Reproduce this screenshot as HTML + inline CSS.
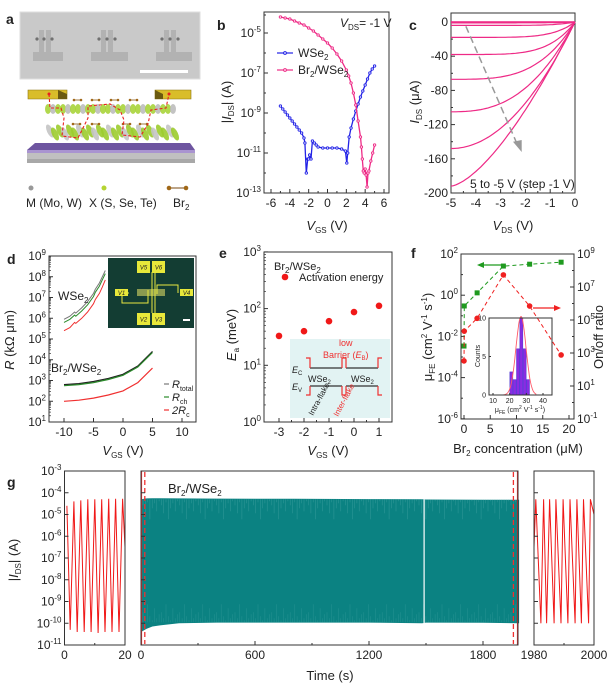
<!DOCTYPE html>
<html><head><meta charset="utf-8">
<style>
html,body{margin:0;padding:0;background:#fff;}
svg{display:block;font-family:"Liberation Sans",Arial,sans-serif;}
text{fill:#222;}
</style></head>
<body>
<svg id="fig" width="610" height="686" viewBox="0 0 610 686" xmlns="http://www.w3.org/2000/svg">
<g>
<text x="6" y="24" font-size="14" font-weight="bold">a</text>
<rect x="20" y="12" width="180" height="67" fill="#c9c9c9" stroke="#dedede"/>
<g fill="#b2b2b2">
<rect x="39" y="30" width="5" height="24"/><rect x="46" y="30" width="5" height="24"/><rect x="33" y="52" width="30" height="9"/>
<rect x="101" y="30" width="5" height="24"/><rect x="108" y="30" width="5" height="24"/><rect x="91" y="52" width="37" height="9"/>
<rect x="164" y="30" width="5" height="24"/><rect x="171" y="30" width="5" height="24"/><rect x="156" y="52" width="36" height="9"/>
</g>
<g fill="#707070">
<circle cx="37" cy="39" r="1.6"/><circle cx="44" cy="39" r="1.6"/><circle cx="52" cy="39" r="1.6"/>
<circle cx="99" cy="39" r="1.6"/><circle cx="107" cy="39" r="1.6"/><circle cx="115" cy="39" r="1.6"/>
<circle cx="162" cy="39" r="1.6"/><circle cx="170" cy="39" r="1.6"/><circle cx="178" cy="39" r="1.6"/>
</g>
<rect x="140" y="70" width="48" height="3" fill="#fff"/>
<g>
<polygon points="35,143 190,143 195,150 27,150" fill="#6e55a0"/>
<rect x="27" y="150" width="168" height="3" fill="#a994d0"/>
<rect x="27" y="153" width="168" height="10" fill="#c0c0c0"/>
<rect x="27" y="159" width="168" height="4" fill="#a8a8a8"/>
<g id="layers"></g>
<polygon points="28,90 67,90 67,99 28,99" fill="#d9bd2a" stroke="#8a7410" stroke-width="0.6"/>
<polygon points="58,90 67,94 67,99 58,99" fill="#6b5a10"/>
<polygon points="155,90 191,90 191,99 155,99" fill="#d9bd2a" stroke="#8a7410" stroke-width="0.6"/>
<polygon points="155,90 163,94 163,99 155,99" fill="#6b5a10"/>
<path d="M49,94 L50,108 L61,108 L64,118 L62,136 L78,138 L88,118 L88,106 L110,104 L120,110 L124,120 L122,135 L140,137 L148,124 L151,110 L166,108 L169,94" fill="none" stroke="#e82020" stroke-width="1.1" stroke-dasharray="3,2"/>
<circle cx="49" cy="94" r="1.5" fill="#e82020"/><circle cx="169" cy="94" r="1.5" fill="#e82020"/>
</g>
<g>
<circle cx="31" cy="188" r="2.5" fill="#999"/>
<circle cx="104" cy="188" r="2.5" fill="#b5d432"/>
<line x1="169" y1="188" x2="186" y2="188" stroke="#7a4a10" stroke-width="1"/>
<circle cx="169" cy="188" r="2.3" fill="#a06818"/><circle cx="186" cy="188" r="2.3" fill="#a06818"/>
<text x="26" y="207" font-size="12">M (Mo, W)</text>
<text x="89" y="207" font-size="12">X (S, Se, Te)</text>
<text x="173" y="207" font-size="12">Br<tspan font-size="8" dy="3">2</tspan></text>
</g>
</g>
</svg>
<script>
const NS='http://www.w3.org/2000/svg';
const svg=document.getElementById('fig');

/* ---------- DATA ---------- */
const bVBlue=[-5,-4.75,-4.5,-4.25,-4,-3.75,-3.5,-3.25,-3,-2.75,-2.5,-2.4,-2.25,-2.1,-2,-1.9,-1.75,-1.6,-1.4,-1.2,-1,-0.5,0,0.5,1,1.5,1.9,2.05,2.15,2.3,2.5,2.75,3,3.25,3.5,3.75,4,4.25,4.5,4.75,5];
const bLogBlue=[-8.65,-8.8,-8.95,-9.1,-9.25,-9.4,-9.55,-9.7,-9.85,-10.0,-10.25,-10.5,-12.0,-11.3,-11.3,-11.1,-11.3,-10.4,-10.5,-10.6,-10.7,-10.75,-10.75,-10.75,-10.75,-10.8,-10.9,-11.5,-11.0,-10.2,-9.75,-9.3,-8.9,-8.55,-8.2,-7.9,-7.6,-7.3,-7.0,-6.8,-6.65];
const bVPink=[-5,-4.5,-4,-3.5,-3,-2.5,-2,-1.5,-1,-0.5,0,0.5,1,1.5,2,2.25,2.5,2.75,3,3.25,3.5,3.6,3.7,3.8,3.9,4,4.1,4.2,4.3,4.4,4.6,4.8,5];
const bLogPink=[-4.2,-4.25,-4.3,-4.4,-4.5,-4.6,-4.75,-4.9,-5.1,-5.3,-5.5,-5.75,-6.05,-6.4,-6.85,-7.15,-7.5,-8.0,-8.6,-9.4,-10.2,-10.7,-11.3,-11.9,-12.0,-11.8,-12.1,-12.7,-12.0,-11.9,-11.4,-11.0,-10.6];
const bXTicks=[-6,-4,-2,0,2,4,6];
const bYTicks=[-13,-11,-9,-7,-5];
const cSat=[0,0,0,-1,-4,-18,-38,-67,-105,-148,-192];
const cSharp=[8,8,8,8,7,6,5,3.5,2.6,2,1.5];
const cXTicks=[-5,-4,-3,-2,-1,0];
const cYTicks=[0,-40,-80,-120,-160,-200];
const dVW=[-10,-9,-8.2,-8,-7,-6,-5,-4.7,-4,-3.5,-3];
const dWTotal=[5.95,6.1,6.3,6.25,6.5,6.8,7.2,7.4,7.7,8.0,8.3];
const dWCh=[5.8,5.95,6.15,6.1,6.35,6.65,7.05,7.25,7.55,7.85,8.15];
const dWRc=[5.4,5.55,5.8,5.75,6.0,6.3,6.7,6.9,7.2,7.5,7.85];
const dVB=[-10,-7.5,-5,-2.5,0,2.5,5];
const dBTotal=[2.8,2.85,2.95,3.1,3.3,3.7,4.4];
const dBCh=[2.75,2.8,2.9,3.05,3.25,3.65,4.35];
const dBRc=[2.0,2.05,2.15,2.3,2.5,2.9,3.6];
const dXTicks=[-10,-5,0,5,10];
const dYTicks=[1,2,3,4,5,6,7,8,9];
const eV=[-3,-2,-1,0,1];
const eEa=[33,40,60,87,112];
const eXTicks=[-3,-2,-1,0,1];
const eYTicks=[0,1,2,3];
const fConc=[0,0.05,2.5,7.5,12.5,18.5];
const fMob=[0.0034,0.3,1.3,26,32,40];
const fOnOff=[330,21000,126000,54000000,700000,760];
const fXTicks=[0,5,10,15,20];
const fYLeft=[-6,-4,-2,0,2];
const fYRight=[-1,1,3,5,7,9];
const hCenters=[21,23,25,27,29,31];
const hCounts=[3,2,6,10,6,2];
const hFitMean=26.8, hFitSigma=3.0, hFitAmp=10.2;
const gLT=[0.8,1.9,3.1,4.2,5.4,6.5,7.7,8.8,10.0,11.1,12.3,13.4,14.6,15.7,16.9,18.0,19.2,20];
const gLI=[-4.6,-10.3,-4.4,-10.4,-4.35,-10.4,-4.3,-10.4,-4.3,-10.45,-4.3,-10.4,-4.28,-10.4,-4.28,-10.4,-4.28,-6.5];
const gRT=[1980,1980.6,1982.3,1983.2,1984.2,1985.2,1986.7,1987.3,1989,1989.7,1991.3,1992,1993.7,1994.3,1995.8,1996.5,1998.2,1998.8,2000];
const gRI=[-6.5,-4.3,-10.0,-4.3,-10.0,-4.3,-10.0,-4.3,-10.0,-4.3,-10.0,-4.3,-10.0,-4.3,-10.0,-4.3,-10.0,-4.3,-5.0];
const gMT=[0,30,60,100,200,400,800,1200,1480,1500,1800,1990];
const gMTop=[-4.3,-4.26,-4.25,-4.25,-4.26,-4.27,-4.28,-4.29,-4.3,-4.31,-4.32,-4.32];
const gMBot=[-10.4,-10.25,-10.15,-10.1,-10.0,-9.97,-9.97,-9.97,-10.0,-9.97,-9.98,-10.0];
const gGapT=1490;
const gDashT=[20,1960];
const gYTicks=[-11,-10,-9,-8,-7,-6,-5,-4,-3];

/* ---------- helpers ---------- */
function mk(tag,attrs,parent){const e=document.createElementNS(NS,tag);for(const k in attrs)e.setAttribute(k,attrs[k]);(parent||svg).appendChild(e);return e;}
function lin(d0,d1,r0,r1){return v=>r0+(v-d0)*(r1-r0)/(d1-d0);}
function sup(e){return '10<tspan font-size="8" dy="-5">'+e+'</tspan>';}
function T(x,y,html,attrs,name){
  const e=mk('text',Object.assign({x:x,y:y,'font-size':12},attrs||{}));
  e.innerHTML=html;
  
  
  return e;
}
function L(x1,y1,x2,y2,attrs,name){
  const e=mk('line',Object.assign({x1:x1,y1:y1,x2:x2,y2:y2,stroke:'#333','stroke-width':1},attrs||{}));
  
  
  return e;
}
function box(x0,y0,x1,y1,name){
  const e=mk('rect',{x:x0,y:y0,width:x1-x0,height:y1-y0,fill:'none',stroke:'#333','stroke-width':1});
  
  
  return e;
}
function poly(xs,ys,attrs,name){
  const p=xs.map((x,i)=>x.toFixed(1)+','+ys[i].toFixed(1)).join(' ');
  const e=mk('polyline',Object.assign({points:p,fill:'none'},attrs));
  
  
  return e;
}
function dot(x,y,r,attrs,name){
  const e=mk('circle',Object.assign({cx:x,cy:y,r:r},attrs));
  
  
  return e;
}
function xTicks(vals,sx,yb,labels,name,len,fs){
  vals.forEach((v,i)=>{L(sx(v),yb,sx(v),yb-(len||4),{},name+'-tick');
    if(labels) T(sx(v),yb+14,labels[i],{'text-anchor':'middle','font-size':fs||12},name+'-label');});
}
function yTicks(vals,sy,xl,labels,name,len,fs,right){
  vals.forEach((v,i)=>{L(xl,sy(v),xl+(right?-(len||4):(len||4)),sy(v),{},name+'-tick');
    if(labels) T(right?xl+3:xl-3,sy(v)+4,labels[i],{'text-anchor':right?'start':'end','font-size':fs||12},name+'-label');});
}
function minorLog(decs,sy,xl,name,right){
  decs.forEach(d=>{for(let m=2;m<10;m++){const y=sy(d+Math.log10(m));L(xl,y,xl+(right?-2:2),y,{'stroke-width':0.7},name);}});
}

(function(){
  const g=document.getElementById('layers');
  for(let i=0;i<26;i++){const x=48+i*5;
    mk('ellipse',{cx:x,cy:109,rx:3,ry:5,fill:(i%3==1)?'#bdbdbd':'#a8d43a',opacity:0.9},g);
    mk('ellipse',{cx:x+2,cy:131+(i%2)*3,rx:3,ry:7,fill:(i%3==0)?'#c4c4c4':'#9ccc2e',opacity:0.9,transform:'rotate(-25 '+(x+2)+' '+(131+(i%2)*3)+')'},g);}
  [[74,100],[92,100],[111,100],[130,100],[73,124],[92,124],[123,124],[140,124]].forEach(p=>{
    mk('line',{x1:p[0],y1:p[1],x2:p[0]+7,y2:p[1],stroke:'#8a5a18','stroke-width':0.8},g);
    mk('circle',{cx:p[0],cy:p[1],r:1.3,fill:'#a06818'},g);mk('circle',{cx:p[0]+7,cy:p[1],r:1.3,fill:'#a06818'},g);});
})();

/* ---------- Panel b ---------- */
(function(){
  const sx=lin(-6,6,271,384), sy=l=>193-(l+13)*20;
  T(217,30,'b',{'font-size':14,'font-weight':'bold'},'panel-label-b');
  box(264,12,389,193,'plot-frame-b');
  xTicks(bXTicks,sx,193,bXTicks.map(String),'b-x-axis');
  [-5,-3,-1,1,3,5].forEach(v=>L(sx(v),193,sx(v),191,{},'b-x-minor'));
  yTicks(bYTicks,sy,264,bYTicks.map(sup),'b-y-axis');
  [-12,-10,-8,-6,-4.1].forEach(v=>L(264,sy(v),266,sy(v),{},'b-y-minor'));
  const blue='#2222e6', pink='#ee2a86';
  poly(bVBlue.map(sx),bLogBlue.map(sy),{stroke:blue,'stroke-width':1.3},'wse2-transfer-line');
  bVBlue.forEach((v,i)=>dot(sx(v),sy(bLogBlue[i]),1.2,{fill:'#fff',stroke:blue,'stroke-width':0.9},'wse2-point'));
  poly(bVPink.map(sx),bLogPink.map(sy),{stroke:pink,'stroke-width':1.3},'br2-wse2-transfer-line');
  bVPink.forEach((v,i)=>dot(sx(v),sy(bLogPink[i]),1.2,{fill:'#fff',stroke:pink,'stroke-width':0.9},'br2-wse2-point'));
  L(277,53,293,53,{stroke:blue,'stroke-width':1.2},'legend-wse2-line');dot(285,53,1.4,{fill:'#fff',stroke:blue},'legend-wse2-marker');
  T(298,57,'WSe<tspan font-size="8" dy="3">2</tspan>',{},'legend-wse2');
  L(277,70,293,70,{stroke:pink,'stroke-width':1.2},'legend-br2-line');dot(285,70,1.4,{fill:'#fff',stroke:pink},'legend-br2-marker');
  T(298,74,'Br<tspan font-size="8" dy="3">2</tspan><tspan dy="-3">/WSe</tspan><tspan font-size="8" dy="3">2</tspan>',{},'legend-br2-wse2');
  T(340,27,'<tspan font-style="italic">V</tspan><tspan font-size="8" dy="3">DS</tspan><tspan dy="-3">= -1 V</tspan>',{},'vds-annotation');
  T(231,102,'|<tspan font-style="italic">I</tspan><tspan font-size="8" dy="3">DS</tspan><tspan dy="-3">| (A)</tspan>',{'text-anchor':'middle',transform:'rotate(-90 231 102)','font-size':13},'b-y-axis-title');
  T(327,230,'<tspan font-style="italic">V</tspan><tspan font-size="8" dy="3">GS</tspan><tspan dy="-3"> (V)</tspan>',{'text-anchor':'middle','font-size':13},'b-x-axis-title');
})();

/* ---------- Panel c ---------- */
(function(){
  const sx=lin(-5,0,451,575), sy=lin(0,-200,22,193);
  T(409,30,'c',{'font-size':14,'font-weight':'bold'},'panel-label-c');
  box(451,13,575,193,'plot-frame-c');
  xTicks(cXTicks,sx,193,cXTicks.map(String),'c-x-axis');
  [-4.5,-3.5,-2.5,-1.5,-0.5].forEach(v=>L(sx(v),193,sx(v),191,{},'c-x-minor'));
  yTicks(cYTicks,sy,451,cYTicks.map(String),'c-y-axis');
  [-20,-60,-100,-140,-180].forEach(v=>L(451,sy(v),453,sy(v),{},'c-y-minor'));
  cSat.forEach((s,k)=>{const xs=[],ys=[];
    for(let i=0;i<=50;i++){const u=i/50;const v=-5*u;const g=1-Math.pow(1-u,cSharp[k]);xs.push(sx(v));ys.push(sy(s*g));}
    poly(xs,ys,{stroke:'#ee2a86','stroke-width':1.2},'output-curve');});
  L(sx(-4.4),sy(-5),sx(-2.3),sy(-145),{stroke:'#999','stroke-width':1.5,'stroke-dasharray':'7,4'},'gate-sweep-arrow');
  const ap=mk('polygon',{points:`${sx(-2.15)},${sy(-152)} ${sx(-2.5)},${sy(-140)} ${sx(-2.15)},${sy(-138)}`,fill:'#999'});
  
  
  T(470,188,'5 to -5 V (step -1 V)',{},'vgs-step-annotation');
  T(419,102,'<tspan font-style="italic">I</tspan><tspan font-size="8" dy="3">DS</tspan><tspan dy="-3"> (μA)</tspan>',{'text-anchor':'middle',transform:'rotate(-90 419 102)','font-size':13},'c-y-axis-title');
  T(513,230,'<tspan font-style="italic">V</tspan><tspan font-size="8" dy="3">DS</tspan><tspan dy="-3"> (V)</tspan>',{'text-anchor':'middle','font-size':13},'c-x-axis-title');
})();

/* ---------- Panel d ---------- */
(function(){
  const sx=lin(0,5,123,152.5), sy=l=>422-(l-1)*20.75;
  T(7,264,'d',{'font-size':14,'font-weight':'bold'},'panel-label-d');
  box(49,256,196,422,'plot-frame-d');
  xTicks(dXTicks,sx,422,dXTicks.map(String),'d-x-axis');
  yTicks(dYTicks,sy,49,dYTicks.map(sup),'d-y-axis');
  minorLog([1,2,3,4,5,6,7,8],sy,49,'d-y-minor');
  poly(dVW.map(sx),dWTotal.map(sy),{stroke:'#777','stroke-width':1},'wse2-r-total');
  poly(dVW.map(sx),dWCh.map(sy),{stroke:'#2a8a2a','stroke-width':1},'wse2-r-ch');
  poly(dVW.map(sx),dWRc.map(sy),{stroke:'#f03030','stroke-width':1},'wse2-2rc');
  poly(dVB.map(sx),dBTotal.map(sy),{stroke:'#222','stroke-width':1.2},'br2-r-total');
  poly(dVB.map(sx),dBCh.map(sy),{stroke:'#2a8a2a','stroke-width':1.2},'br2-r-ch');
  poly(dVB.map(sx),dBRc.map(sy),{stroke:'#f03030','stroke-width':1.2},'br2-2rc');
  T(58,300,'WSe<tspan font-size="8" dy="3">2</tspan>',{},'wse2-label');
  T(51,372,'Br<tspan font-size="8" dy="3">2</tspan><tspan dy="-3">/WSe</tspan><tspan font-size="8" dy="3">2</tspan>',{},'br2-wse2-label');
  [['#777','R','total',388],['#2a8a2a','R','ch',401],['#f03030','2R','c',414]].forEach(r=>{
    L(164,r[3]-4,169,r[3]-4,{stroke:r[0],'stroke-width':1.2},'d-legend-line');
    T(172,r[3],'<tspan font-style="italic">'+r[1]+'</tspan><tspan font-size="7" dy="3">'+r[2]+'</tspan>',{'font-size':11},'d-legend-'+r[2]);});
  T(14,340,'<tspan font-style="italic">R</tspan> (kΩ μm)',{'text-anchor':'middle',transform:'rotate(-90 14 340)','font-size':13},'d-y-axis-title');
  T(123,455,'<tspan font-style="italic">V</tspan><tspan font-size="8" dy="3">GS</tspan><tspan dy="-3"> (V)</tspan>',{'text-anchor':'middle','font-size':13},'d-x-axis-title');
  const g=mk('g',{});
  
  
  mk('rect',{x:108,y:258,width:86,height:70,fill:'#133d33'},g);
  mk('rect',{x:137,y:289,width:28,height:7,fill:'#8a9a50'},g);
  mk('path',{d:'M152,272 V313 M155,272 V313 M129,293 H122 V303 H148 V290 M157,294 V285 H178 V293',stroke:'#e8e840','stroke-width':1,fill:'none'},g);
  [[137,261,'5'],[152,261,'6'],[115,289,'1'],[180,289,'4'],[137,313,'2'],[152,313,'3']].forEach(p=>{
    const w=13, h=(p[2]=='1'||p[2]=='4')?7:12;
    mk('rect',{x:p[0],y:p[1],width:w,height:h,fill:'#e8e83a'},g);
    const t=mk('text',{x:p[0]+w/2,y:p[1]+h/2+2.5,'font-size':6,'text-anchor':'middle','font-style':'italic'},g);
    t.textContent='V'+p[2];});
  mk('rect',{x:183,y:319,width:7,height:2,fill:'#fff'},g);
})();

/* ---------- Panel e ---------- */
(function(){
  const sx=lin(-3,1,279,379), sy=v=>422-Math.log10(v)*56.7;
  T(219,258,'e',{'font-size':14,'font-weight':'bold'},'panel-label-e');
  box(264,252,392,422,'plot-frame-e');
  xTicks(eXTicks,sx,422,eXTicks.map(String),'e-x-axis');
  [-2.5,-1.5,-0.5,0.5].forEach(v=>L(sx(v),422,sx(v),420,{},'e-x-minor'));
  yTicks(eYTicks,l=>422-l*56.7,264,eYTicks.map(sup),'e-y-axis');
  minorLog([0,1,2],l=>422-l*56.7,264,'e-y-minor');
  const g=mk('g',{});
  
  
  mk('rect',{x:290,y:339,width:100,height:79,fill:'#e2f3f3'},g);
  mk('path',{d:'M310,368 H342 M346,368 H378 M310,386 H342 M346,386 H378',stroke:'#333','stroke-width':1.2,fill:'none'},g);
  mk('path',{d:'M306,358 H310 V368 M342,368 V358 H346 V368 M378,368 V358 H382 M306,395 H310 V386 M342,386 V395 H346 V386 M378,386 V395 H382',stroke:'#f03030','stroke-width':1.2,fill:'none'},g);
  T(339,346,'low',{'font-size':9,style:'fill:#f03030'},'low-barrier-label');
  T(323,358,'Barrier (<tspan font-style="italic">E</tspan><tspan font-size="6" dy="2">B</tspan><tspan dy="-2">)</tspan>',{'font-size':9,style:'fill:#f03030'},'barrier-label');
  T(292,373,'<tspan font-style="italic">E</tspan><tspan font-size="6" dy="2">C</tspan>',{'font-size':9},'ec-label');
  T(292,390,'<tspan font-style="italic">E</tspan><tspan font-size="6" dy="2">V</tspan>',{'font-size':9},'ev-label');
  T(308,382,'WSe<tspan font-size="6" dy="2">2</tspan>',{'font-size':9},'wse2-left-label');
  T(351,382,'WSe<tspan font-size="6" dy="2">2</tspan>',{'font-size':9},'wse2-right-label');
  T(313,416,'Intra-flake',{'font-size':8,transform:'rotate(-62 313 416)'},'intra-flake-label');
  T(338,417,'Inter-flake',{'font-size':8,transform:'rotate(-62 338 417)',style:'fill:#f03030'},'inter-flake-label');
  eV.forEach((v,i)=>dot(sx(v),sy(eEa[i]),3.3,{fill:'#f01818'},'activation-energy-point'));
  T(274,270,'Br<tspan font-size="8" dy="3">2</tspan><tspan dy="-3">/WSe</tspan><tspan font-size="8" dy="3">2</tspan>',{'font-size':11},'e-sample-label');
  dot(285,277,3.3,{fill:'#f01818'},'legend-activation-marker');
  T(299,281,'Activation energy',{'font-size':11},'legend-activation-energy');
  T(236,335,'<tspan font-style="italic">E</tspan><tspan font-size="8" dy="3">a</tspan><tspan dy="-3"> (meV)</tspan>',{'text-anchor':'middle',transform:'rotate(-90 236 335)','font-size':13},'e-y-axis-title');
  T(328,455,'<tspan font-style="italic">V</tspan><tspan font-size="8" dy="3">GS</tspan><tspan dy="-3"> (V)</tspan>',{'text-anchor':'middle','font-size':13},'e-x-axis-title');
})();

/* ---------- Panel f ---------- */
(function(){
  const sx=lin(0,20,464,569), syL=v=>254+(2-Math.log10(v))*20.6, syR=v=>254+(9-Math.log10(v))*16.5;
  T(411,258,'f',{'font-size':14,'font-weight':'bold'},'panel-label-f');
  box(461,254,574,419,'plot-frame-f');
  xTicks(fXTicks,sx,419,fXTicks.map(String),'f-x-axis');
  yTicks(fYLeft,l=>254+(2-l)*20.6,461,fYLeft.map(sup),'f-y-left-axis');
  yTicks(fYRight,l=>254+(9-l)*16.5,574,fYRight.map(sup),'f-y-right-axis',4,12,true);
  [-5,-3,-1,1].forEach(l=>L(461,254+(2-l)*20.6,463,254+(2-l)*20.6,{},'f-y-left-minor'));
  [0,2,4,6,8].forEach(l=>L(574,254+(9-l)*16.5,572,254+(9-l)*16.5,{},'f-y-right-minor'));
  const hx=lin(10,40,493,543), hy=lin(0,10,395,318);
  hCenters.forEach((c,i)=>{const r=mk('rect',{x:hx(c-0.9),y:hy(hCounts[i]),width:hx(c+0.9)-hx(c-0.9),height:395-hy(hCounts[i]),fill:'#8a2be2',stroke:'#4a3ad0','stroke-width':0.5});
    
    });
  const fx=[],fy=[];for(let i=0;i<=60;i++){const m=15+i*0.35;fx.push(hx(m));fy.push(hy(hFitAmp*Math.exp(-Math.pow(m-hFitMean,2)/(2*hFitSigma*hFitSigma))));}
  poly(fx,fy,{stroke:'#ff5a6a','stroke-width':0.9},'gaussian-fit');
  box(489,318,552,395,'histogram-frame');
  [10,20,30,40].forEach(v=>{L(hx(v),395,hx(v),393,{},'hist-x-tick');T(hx(v),403,String(v),{'text-anchor':'middle','font-size':7},'hist-x-label');});
  [0,5,10].forEach(v=>{L(489,hy(v),491,hy(v),{},'hist-y-tick');T(486,hy(v)+2.5,String(v),{'text-anchor':'end','font-size':7},'hist-y-label');});
  T(480,356,'Counts',{'text-anchor':'middle','font-size':7,transform:'rotate(-90 480 356)'},'hist-y-title');
  T(520,412,'μ<tspan font-size="5" dy="2">FE</tspan><tspan dy="-2"> (cm</tspan><tspan font-size="5" dy="-3">2</tspan><tspan dy="3"> V</tspan><tspan font-size="5" dy="-3">-1</tspan><tspan dy="3"> s</tspan><tspan font-size="5" dy="-3">-1</tspan><tspan dy="3">)</tspan>',{'text-anchor':'middle','font-size':7},'hist-x-title');
  poly(fConc.map(sx),fMob.map(syL),{stroke:'#1f9a1f','stroke-width':1,'stroke-dasharray':'4,3'},'mobility-line');
  fConc.forEach((c,i)=>{const y=syL(fMob[i]);const r=mk('rect',{x:sx(c)-2.5,y:y-2.5,width:5,height:5,fill:'#1f9a1f'});
    
    });
  poly(fConc.map(sx),fOnOff.map(syR),{stroke:'#f02020','stroke-width':1,'stroke-dasharray':'4,3'},'onoff-line');
  fConc.forEach((c,i)=>dot(sx(c),syR(fOnOff[i]),2.8,{fill:'#f02020'},'onoff-point'));
  L(481,265,502,265,{stroke:'#1f9a1f','stroke-width':1.3},'mobility-axis-arrow');
  const a1=mk('polygon',{points:'477,265 484,262 484,268',fill:'#1f9a1f'});
  
  
  L(533,308,556,308,{stroke:'#f02020','stroke-width':1.3},'onoff-axis-arrow');
  const a2=mk('polygon',{points:'561,308 554,305 554,311',fill:'#f02020'});
  
  
  T(432,337,'μ<tspan font-size="8" dy="3">FE</tspan><tspan dy="-3"> (cm</tspan><tspan font-size="8" dy="-5">2</tspan><tspan dy="5"> V</tspan><tspan font-size="8" dy="-5">-1</tspan><tspan dy="5"> s</tspan><tspan font-size="8" dy="-5">-1</tspan><tspan dy="5">)</tspan>',{'text-anchor':'middle',transform:'rotate(-90 432 337)','font-size':13},'f-y-left-title');
  T(603,337,'On/off ratio',{'text-anchor':'middle',transform:'rotate(-90 603 337)','font-size':13},'f-y-right-title');
  T(518,453,'Br<tspan font-size="8" dy="3">2</tspan><tspan dy="-3"> concentration (μM)</tspan>',{'text-anchor':'middle','font-size':13},'f-x-axis-title');
})();

/* ---------- Panel g ---------- */
(function(){
  const sy=l=>471+(-3-l)*21.75;
  const sxL=lin(0,20,64.5,125), sxM=lin(0,600,141,255), sxR=lin(1980,2000,534,594);
  T(7,487,'g',{'font-size':14,'font-weight':'bold'},'panel-label-g');
  const pts=gMT.map((t,i)=>sxM(t).toFixed(1)+','+sy(gMTop[i]).toFixed(1)).concat(gMT.slice().reverse().map((t,j)=>{const i=gMT.length-1-j;return sxM(t).toFixed(1)+','+sy(gMBot[i]).toFixed(1);})).join(' ');
  const f=mk('polygon',{points:pts,fill:'#0b8282'});
  
  
  const x0=sxM(gMT[0]), x1=sxM(gMT[gMT.length-1]);
  for(let x=x0+2,k=0;x<x1;x+=2.3,k++){
    const top=sy(gMTop[0]), l1=[6,14,3,20,9,4,12,2][k%8], l2=[5,2,9,3,1,7,2,4][k%8];
    L(x,top,x,top+l1,{stroke:'#7fc4c4','stroke-width':0.5,opacity:0.35},'band-texture');
    L(x,sy(-10)-1,x,sy(-10)-1-l2*2,{stroke:'#5ab0b0','stroke-width':0.5,opacity:0.35},'band-texture');
  }
  L(sxM(gGapT),sy(-4.3),sxM(gGapT),sy(-10),{stroke:'#fff','stroke-width':1.2},'measurement-gap');
  gDashT.forEach(t=>L(sxM(t),472,sxM(t),644,{stroke:'#f03030','stroke-width':1.3,'stroke-dasharray':'5,3'},'zoom-window-marker'));
  L(141.5,471,141.5,645,{stroke:'#f03030','stroke-width':1.2},'zoom-edge-left');
  L(517.5,471,517.5,645,{stroke:'#f03030','stroke-width':1.2},'zoom-edge-right');
  poly(gLT.map(sxL),gLI.map(sy),{stroke:'#f01818','stroke-width':1},'start-cycles-line');
  poly(gRT.map(sxR),gRI.map(sy),{stroke:'#f01818','stroke-width':1},'end-cycles-line');
  box(64.5,471,125,645,'plot-frame-g-start');
  box(141,471,518,645,'plot-frame-g-main');
  box(534,471,594,645,'plot-frame-g-end');
  yTicks(gYTicks,sy,64.5,gYTicks.map(sup),'g-y-axis',4,12);
  yTicks(gYTicks,sy,141,null,'g-main-y-axis');
  yTicks(gYTicks,sy,534,null,'g-end-y-axis');
  xTicks([0,20],sxL,645,['0','20'],'g-start-x-axis');
  L(sxL(10),645,sxL(10),643,{},'g-start-x-minor');
  xTicks([0,600,1200,1800],sxM,645,['0','600','1200','1800'],'g-main-x-axis');
  [300,900,1500].forEach(t=>L(sxM(t),645,sxM(t),643,{},'g-main-x-minor'));
  xTicks([1980,2000],sxR,645,['1980','2000'],'g-end-x-axis');
  L(sxR(1990),645,sxR(1990),643,{},'g-end-x-minor');
  T(168,493,'Br<tspan font-size="8" dy="3">2</tspan><tspan dy="-3">/WSe</tspan><tspan font-size="8" dy="3">2</tspan>',{'font-size':13},'g-sample-label');
  T(18,560,'|<tspan font-style="italic">I</tspan><tspan font-size="8" dy="3">DS</tspan><tspan dy="-3">| (A)</tspan>',{'text-anchor':'middle',transform:'rotate(-90 18 560)','font-size':13},'g-y-axis-title');
  T(330,680,'Time (s)',{'text-anchor':'middle','font-size':13},'g-x-axis-title');
})();
</script>
</body></html>
